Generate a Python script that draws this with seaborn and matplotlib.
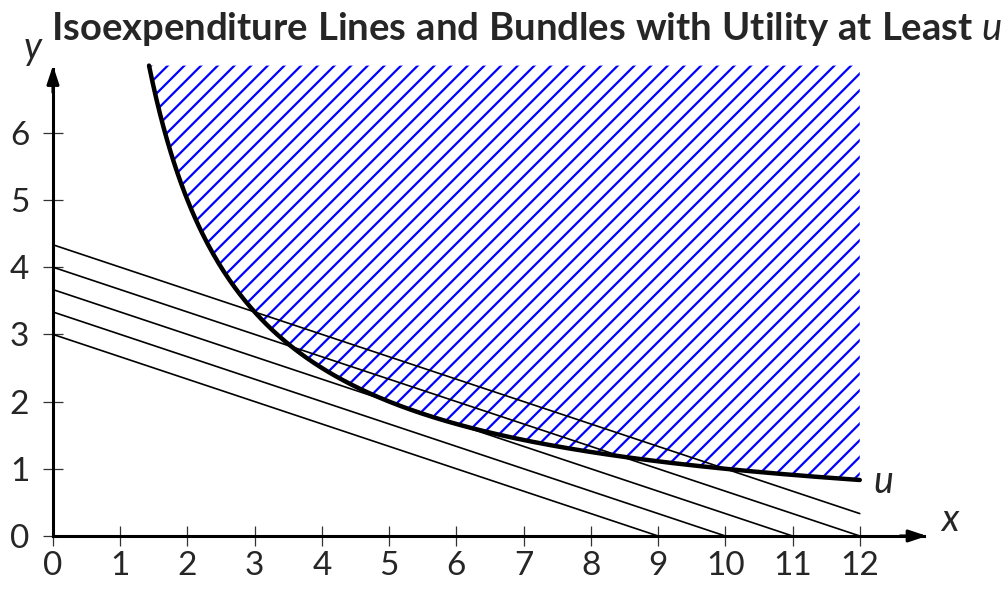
import numpy as np
import pandas as pd
import matplotlib
matplotlib.use("Agg")
import matplotlib.pyplot as plt
import seaborn as sns

# ---- data ----
utility_level = 10.0                       # indifference curve x*y = u
budget_intercepts = [3.0, 10/3, 11/3, 4.0, 13/3]   # y-intercepts of isoexpenditure lines
budget_x_ends = [9, 10, 11, 12, 12]        # where each drawn line stops
price_slope = -1/3
x_ticks = list(range(0, 13))
y_ticks = list(range(0, 7))
x_max, y_max = 12, 7
title_text = r"$\mathbf{Isoexpenditure\ Lines\ and\ Bundles\ with\ Utility\ at\ Least}\ u$"

sns.set_theme(style="white")
plt.rcParams['font.family'] = ['Lato', 'DejaVu Sans']
plt.rcParams['mathtext.fontset'] = 'custom'
plt.rcParams['mathtext.rm'] = 'Lato'
plt.rcParams['mathtext.it'] = 'Lato:italic'
plt.rcParams['mathtext.bf'] = 'Lato:bold'
plt.rcParams['hatch.linewidth'] = 1.6

fig = plt.figure(figsize=(10.07, 5.89), dpi=100)
ax = fig.add_axes([0, 0, 1, 1])
ax.set_xlim(-0.788, 14.19)
ax.set_ylim(-0.789, 7.976)

# indifference curve and hatched upper contour set
x_start = utility_level / y_max
xs = np.linspace(x_start, x_max, 400)
ys = utility_level / xs
ax.fill_between(xs, ys, y_max, facecolor='none', edgecolor='#0000ff',
                hatch='//', linewidth=0)

# isoexpenditure lines
for b, xe in zip(budget_intercepts, budget_x_ends):
    df = pd.DataFrame({"x": [0, xe], "y": [b, b + price_slope * xe]})
    sns.lineplot(data=df, x="x", y="y", ax=ax, color='black', linewidth=1.2,
                 estimator=None, sort=False)

curve = pd.DataFrame({"x": xs, "y": ys})
sns.lineplot(data=curve, x="x", y="y", ax=ax, color='black', linewidth=3.2,
             estimator=None, sort=False)

# axes styling
for s in ['top', 'right']:
    ax.spines[s].set_visible(False)
ax.spines['left'].set_position(('data', 0))
ax.spines['bottom'].set_position(('data', 0))
ax.spines['left'].set_bounds(0, 6.95)
ax.spines['bottom'].set_bounds(0, 12.95)
for s in ['left', 'bottom']:
    ax.spines[s].set_linewidth(2.2)
    ax.spines[s].set_color('black')
ax.set_xticks(x_ticks)
ax.set_yticks(y_ticks)
ax.tick_params(direction='inout', length=14, width=0.9, color='#333333',
               labelsize=24, bottom=True, left=True)
ax.tick_params(axis='x', pad=4)
ax.tick_params(axis='y', pad=10)
ax.set_xlabel("")
ax.set_ylabel("")

arrow_kw = dict(arrowstyle='-|>,head_length=0.9,head_width=0.3', color='black',
                lw=2.2, shrinkA=0, shrinkB=0)
ax.annotate('', xy=(13.0, 0), xytext=(12.6, 0), arrowprops=arrow_kw)
ax.annotate('', xy=(0, 7.0), xytext=(0, 6.6), arrowprops=arrow_kw)

ax.text(13.34, 0.24, 'x', fontsize=27, style='italic', ha='center', va='center')
ax.text(-0.30, 7.26, 'y', fontsize=27, style='italic', ha='center', va='center')
ax.text(12.2, 0.80, 'u', fontsize=27, style='italic', ha='left', va='center')

fig.text(0.523, 1 - 40/589, title_text, fontsize=27.5, ha='center', va='baseline')

fig.savefig("out.png", dpi=100)
